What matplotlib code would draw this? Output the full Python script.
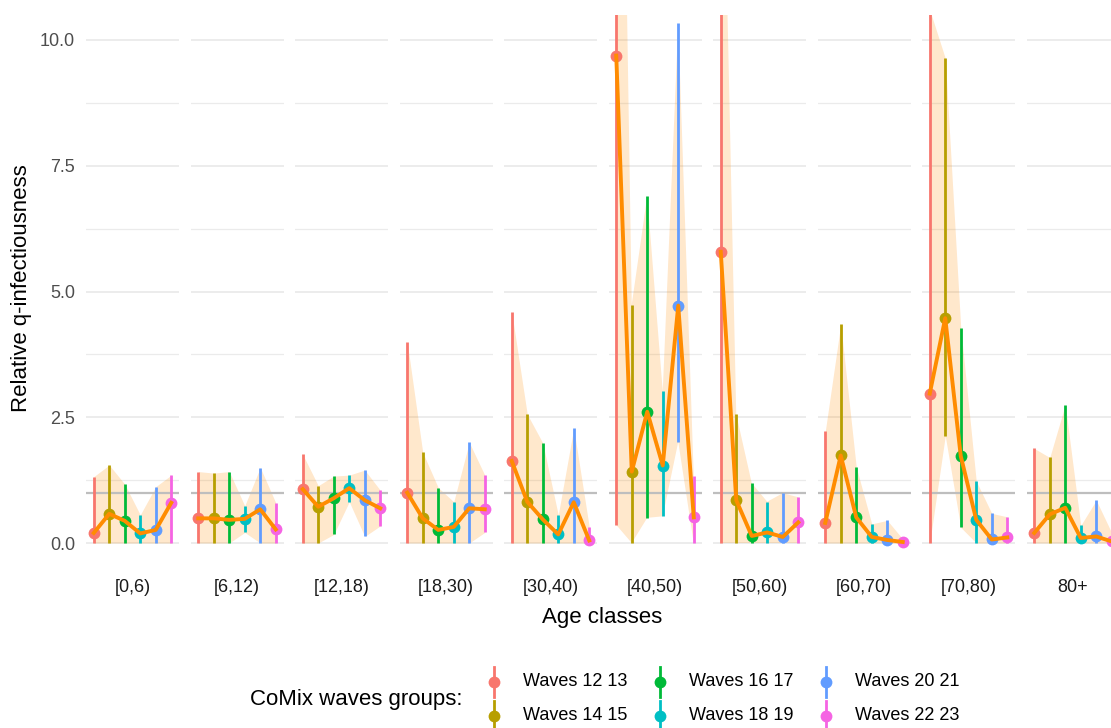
import matplotlib
matplotlib.use("Agg")
import matplotlib.pyplot as plt
from matplotlib.lines import Line2D

plt.rcParams['font.family'] = ['Liberation Sans', 'DejaVu Sans']

# ---------------- data ----------------
age_classes = ["[0,6)", "[6,12)", "[12,18)", "[18,30)", "[30,40)",
               "[40,50)", "[50,60)", "[60,70)", "[70,80)", "80+"]
wave_groups = ["Waves 12 13", "Waves 14 15", "Waves 16 17",
               "Waves 18 19", "Waves 20 21", "Waves 22 23"]
wave_colors = ["#F8766D", "#B79F00", "#00BA38", "#00BFC4", "#619CFF", "#F564E3"]

# point estimates: rows = age classes, columns = wave groups
q_est = [
    [0.20, 0.58, 0.44, 0.19, 0.26, 0.80],
    [0.49, 0.49, 0.46, 0.48, 0.67, 0.27],
    [1.07, 0.72, 0.89, 1.09, 0.85, 0.69],
    [1.00, 0.49, 0.26, 0.32, 0.69, 0.67],
    [1.63, 0.82, 0.47, 0.17, 0.81, 0.05],
    [9.69, 1.42, 2.61, 1.54, 4.72, 0.51],
    [5.79, 0.85, 0.14, 0.21, 0.12, 0.41],
    [0.40, 1.74, 0.51, 0.12, 0.06, 0.02],
    [2.97, 4.47, 1.73, 0.46, 0.07, 0.11],
    [0.20, 0.57, 0.70, 0.10, 0.13, 0.03],
]
q_low = [
    [0.00, 0.00, 0.00, 0.00, 0.00, 0.00],
    [0.00, 0.00, 0.00, 0.21, 0.00, 0.00],
    [0.00, 0.00, 0.17, 0.82, 0.13, 0.34],
    [0.00, 0.00, 0.00, 0.00, 0.00, 0.21],
    [0.00, 0.00, 0.00, 0.00, 0.00, 0.00],
    [0.36, 0.00, 0.50, 0.53, 2.01, 0.00],
    [0.00, 0.00, 0.00, 0.00, 0.00, 0.00],
    [0.00, 0.00, 0.00, 0.00, 0.00, 0.00],
    [0.00, 2.13, 0.31, 0.00, 0.00, 0.00],
    [0.00, 0.00, 0.00, 0.00, 0.00, 0.00],
]
q_high = [
    [1.32, 1.55, 1.17, 0.56, 1.12, 1.35],
    [1.42, 1.39, 1.42, 0.74, 1.50, 0.80],
    [1.76, 1.14, 1.33, 1.35, 1.45, 1.05],
    [3.99, 1.80, 1.10, 0.82, 2.00, 1.35],
    [4.59, 2.56, 1.99, 0.56, 2.28, 0.32],
    [24.0, 4.74, 6.90, 3.02, 10.33, 1.33],
    [16.7, 2.56, 1.19, 0.82, 0.99, 0.91],
    [2.22, 4.35, 1.51, 0.38, 0.45, 0.08],
    [10.6, 9.64, 4.28, 1.23, 0.59, 0.52],
    [1.88, 1.70, 2.75, 0.35, 0.85, 0.20],
]
y_ticks = [0.0, 2.5, 5.0, 7.5, 10.0]
y_tick_labels = ["0.0", "2.5", "5.0", "7.5", "10.0"]
y_minor = [1.25, 3.75, 6.25, 8.75]
reference_level = 1.0

# ---------------- layout ----------------
W, H = 1111, 728
fig = plt.figure(figsize=(W / 100, H / 100), dpi=100)
fig.patch.set_facecolor("white")


def fx(x):
    return x / W


def fy(y):
    return 1 - y / H


panel_top, panel_bot = 14.85, 568.15
panel_w, pitch, first_left = 93, 104.5, 86
ylim = (-0.5, 10.5)
xs = list(range(1, len(wave_groups) + 1))

grid_col = "#EBEBEB"
orange = "#FF8C00"

for i, age in enumerate(age_classes):
    left = first_left + i * pitch
    ax = fig.add_axes([fx(left), fy(panel_bot), panel_w / W, (panel_bot - panel_top) / H])
    ax.set_xlim(0.5, len(wave_groups) + 0.5)
    ax.set_ylim(*ylim)
    for s in ax.spines.values():
        s.set_visible(False)
    ax.set_facecolor("none")
    ax.set_xticks([])
    ax.set_yticks(y_ticks)
    ax.tick_params(axis="y", length=0, pad=8, labelsize=13, labelcolor="#4D4D4D")
    if i == 0:
        ax.set_yticklabels(y_tick_labels)
    else:
        ax.set_yticklabels([])

    for t in y_ticks:
        ax.axhline(t, color=grid_col, lw=1.3, zorder=0)
    for t in y_minor:
        ax.axhline(t, color=grid_col, lw=0.9, zorder=0)

    est, lo, hi = q_est[i], q_low[i], q_high[i]
    ax.fill_between(xs, lo, hi, color=orange, alpha=0.2, lw=0, zorder=1)
    ax.axhline(reference_level, color="#BEBEBE", lw=1.6, zorder=2)
    for k in range(len(wave_groups)):
        ax.vlines(xs[k], lo[k], hi[k], color=wave_colors[k], lw=2.0, zorder=3)
        ax.plot(xs[k], est[k], "o", color=wave_colors[k], ms=8.5, mec="none", zorder=4)
    ax.plot(xs, est, color=orange, lw=2.8, zorder=5, solid_joinstyle="round")

    fig.text(fx(left + panel_w / 2), fy(587), age, ha="center", va="center",
             fontsize=13, color="#1A1A1A")

fig.text(fx(602), fy(617), "Age classes", ha="center", va="center", fontsize=16)
fig.text(fx(22), fy(288), "Relative q-infectiousness", ha="center", va="center",
         rotation=90, fontsize=16)

# ---------------- legend ----------------
fig.text(fx(250), fy(700), "CoMix waves groups:", ha="left", va="center", fontsize=16)
col_x = [494, 660, 826]
row_y = [682, 716]
for k, (lab, col) in enumerate(zip(wave_groups, wave_colors)):
    c, r = k // 2, k % 2
    x, y = col_x[c], row_y[r]
    fig.add_artist(Line2D([fx(x), fx(x)], [fy(y - 15), fy(y + 15)],
                          transform=fig.transFigure, color=col, lw=2.0))
    fig.add_artist(Line2D([fx(x)], [fy(y)], transform=fig.transFigure,
                          marker="o", ms=8.5, color=col, mec="none", ls="none"))
    fig.text(fx(x + 29), fy(y), lab, ha="left", va="center", fontsize=13)

fig.savefig("out.png", dpi=100)
